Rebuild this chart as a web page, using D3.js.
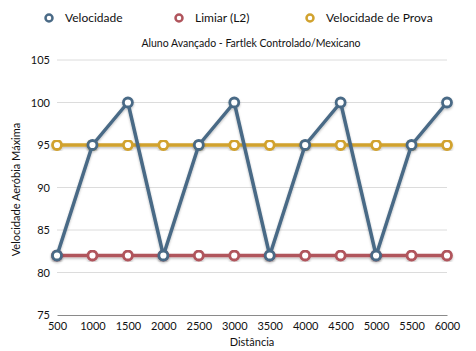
<!DOCTYPE html>
<html>
<head>
<meta charset="utf-8">
<script src="https://cdn.jsdelivr.net/npm/d3@7"></script>
<style>
  html, body { margin: 0; padding: 0; background: #fff; }
  #chart { width: 476px; height: 351px; }
  text { font-family: "Gill Sans", Lato, "Open Sans", sans-serif; fill: #111; }
</style>
</head>
<body>
<div id="chart"></div>
<script>
// Fartlek chart: velocity per distance
const distances = [500, 1000, 1500, 2000, 2500, 3000, 3500, 4000, 4500, 5000, 5500, 6000];
const velocidade = [82, 95, 100, 82, 95, 100, 82, 95, 100, 82, 95, 100];
const limiar = [82, 82, 82, 82, 82, 82, 82, 82, 82, 82, 82, 82];
const prova = [95, 95, 95, 95, 95, 95, 95, 95, 95, 95, 95, 95];
const yTicks = [75, 80, 85, 90, 95, 100, 105];
const seriesNames = ["Velocidade", "Limiar (L2)", "Velocidade de Prova"];
const colors = ["#4a6a86", "#b0545c", "#d1a22e"];

const W = 476, H = 351;
const M = {t: 60, r: 29, b: 36, l: 57};

const svg = d3.select('#chart').append('svg').attr('width', W).attr('height', H);

const defs = svg.append('defs');
const f = defs.append('filter').attr('id', 'shadow').attr('x', '-5%').attr('y', '-5%').attr('width', '110%').attr('height', '120%');
f.append('feDropShadow').attr('dx', 0).attr('dy', 1.5).attr('stdDeviation', 1).attr('flood-color', '#000').attr('flood-opacity', 0.25);

const x = d3.scalePoint().domain(distances).range([M.l, W - M.r]);
const y = d3.scaleLinear().domain([75, 105]).range([H - M.b, M.t]);

// gridlines
svg.append('g').selectAll('line')
  .data(yTicks.filter(d => d !== 75))
  .enter().append('line')
  .attr('x1', M.l).attr('x2', W - M.r)
  .attr('y1', d => y(d)).attr('y2', d => y(d))
  .attr('stroke', '#dcdcdc').attr('stroke-width', 1);

// axes
const yAxis = svg.append('g')
  .attr('transform', `translate(${M.l},0)`)
  .call(d3.axisLeft(y).tickValues(yTicks).tickSize(0).tickPadding(7));
yAxis.select('.domain').remove();
yAxis.selectAll('text').attr('font-size', 11).style('font-family', 'Lato, sans-serif');

const xAxis = svg.append('g')
  .attr('transform', `translate(0,${y(75)})`)
  .call(d3.axisBottom(x).tickSize(0).tickPadding(7));
xAxis.select('.domain').attr('stroke', '#8a8a8a').attr('stroke-width', 1);
xAxis.selectAll('text').attr('font-size', 11).style('font-family', 'Lato, sans-serif');

// series
const allSeries = [limiar, prova, velocidade];
const allColors = [colors[1], colors[2], colors[0]];
const line = d3.line().x((d, i) => x(distances[i])).y(d => y(d));

allSeries.forEach((vals, k) => {
  const g = svg.append('g').attr('filter', 'url(#shadow)');
  g.append('path')
    .datum(vals)
    .attr('d', line)
    .attr('fill', 'none')
    .attr('stroke', allColors[k])
    .attr('stroke-width', 3.5)
    .attr('stroke-linejoin', 'round');
  g.selectAll('circle')
    .data(vals)
    .enter().append('circle')
    .attr('cx', (d, i) => x(distances[i]))
    .attr('cy', d => y(d))
    .attr('r', 4.5)
    .attr('fill', '#fff')
    .attr('stroke', allColors[k])
    .attr('stroke-width', 2.8);
});

// legend
const legendX = [49, 179, 310];
const legend = svg.append('g');
seriesNames.forEach((name, i) => {
  legend.append('circle')
    .attr('cx', legendX[i]).attr('cy', 18).attr('r', 3.5)
    .attr('fill', '#fff').attr('stroke', colors[i]).attr('stroke-width', 2.5);
  legend.append('text')
    .attr('x', legendX[i] + 16).attr('y', 22)
    .attr('font-size', 12)
    .text(name);
});

// title
svg.append('text')
  .attr('x', 251).attr('y', 47)
  .attr('text-anchor', 'middle')
  .attr('font-size', 10.5)
  .text('Aluno Avançado - Fartlek Controlado/Mexicano');

// axis titles
svg.append('text')
  .attr('x', (M.l + W - M.r) / 2).attr('y', 346)
  .attr('text-anchor', 'middle')
  .attr('font-size', 11)
  .text('Distância');

svg.append('text')
  .attr('transform', `translate(20,${(y(75) + y(105)) / 2 + 2}) rotate(-90)`)
  .attr('text-anchor', 'middle')
  .attr('font-size', 11)
  .text('Velocidade Aeróbia Máxima');
</script>
</body>
</html>
